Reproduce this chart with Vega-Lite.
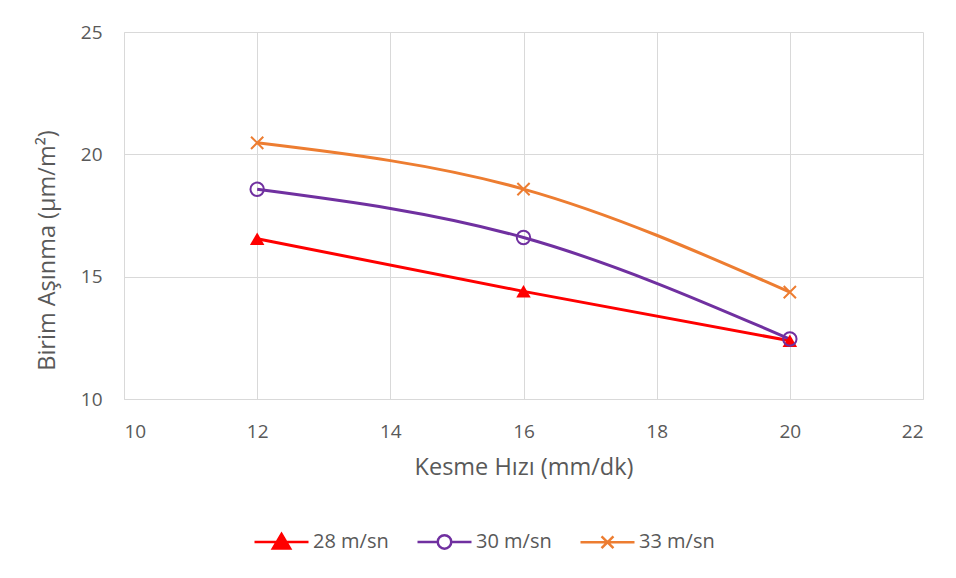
{
  "$schema": "https://vega.github.io/schema/vega-lite/v6.json",
  "width": 799,
  "height": 367,
  "autosize": {"type": "none"},
  "padding": {"left": 124, "top": 32, "right": 33, "bottom": 179},
  "background": "#ffffff",
  "config": {
    "view": {"stroke": null},
    "font": "Open Sans",
    "axis": {
      "grid": true,
      "gridColor": "#d9d9d9",
      "gridWidth": 1,
      "domainColor": "#d9d9d9",
      "domainWidth": 1,
      "ticks": false,
      "labelFont": "Open Sans",
      "labelFontSize": 19,
      "labelColor": "#595959",
      "titleFont": "Open Sans",
      "titleFontSize": 23.5,
      "titleFontWeight": "normal",
      "titleColor": "#595959"
    },
    "legend": {
      "labelFont": "Open Sans",
      "labelFontSize": 20,
      "labelColor": "#595959"
    }
  },
  "data": {
    "values": [
      {"hiz": 12, "asinma": 16.55, "seri": "28 m/sn"},
      {"hiz": 16, "asinma": 14.4, "seri": "28 m/sn"},
      {"hiz": 20, "asinma": 12.38, "seri": "28 m/sn"},
      {"hiz": 12, "asinma": 18.57, "seri": "30 m/sn"},
      {"hiz": 16, "asinma": 16.6, "seri": "30 m/sn"},
      {"hiz": 20, "asinma": 12.45, "seri": "30 m/sn"},
      {"hiz": 12, "asinma": 20.47, "seri": "33 m/sn"},
      {"hiz": 16, "asinma": 18.58, "seri": "33 m/sn"},
      {"hiz": 20, "asinma": 14.37, "seri": "33 m/sn"}
    ]
  },
  "encoding": {
    "x": {
      "field": "hiz",
      "type": "quantitative",
      "scale": {"domain": [10, 22], "nice": false, "zero": false},
      "axis": {
        "values": [10, 12, 14, 16, 18, 20, 22],
        "labelPadding": 23,
        "title": "Kesme Hızı (mm/dk)",
        "titleY": 68,
        "titleBaseline": "middle"
      }
    },
    "y": {
      "field": "asinma",
      "type": "quantitative",
      "scale": {"domain": [10, 25], "nice": false, "zero": false},
      "axis": {
        "values": [10, 15, 20, 25],
        "labelPadding": 22,
        "title": "Birim Aşınma (µm/m²)",
        "titleX": -77,
        "titleY": 218,
        "titleAngle": -90,
        "titleAlign": "center",
        "titleBaseline": "middle"
      }
    }
  },
  "layer": [
    {
      "mark": {"type": "line", "interpolate": "monotone", "strokeWidth": 3},
      "encoding": {
        "color": {
          "field": "seri",
          "type": "nominal",
          "scale": {"domain": ["28 m/sn", "30 m/sn", "33 m/sn"], "range": ["#ff0000", "#7030a0", "#ed7d31"]},
          "legend": {
            "title": null,
            "orient": "none",
            "direction": "horizontal",
            "legendX": 129,
            "legendY": 481,
            "symbolSize": 2916,
            "symbolStrokeWidth": 2.5,
            "labelOffset": 3,
            "columnPadding": 23,
            "encode": {
              "symbols": {
                "update": {
                  "shape": {"signal": "datum.value === '28 m/sn' ? 'M-1,0H1M0,-0.3L0.32,0.24H-0.32Z' : datum.value === '30 m/sn' ? 'M-1,0H-0.25M0.25,0H1M0.25,0A0.25,0.25 0 1,1 -0.25,0A0.25,0.25 0 1,1 0.25,0Z' : 'M-1,0H1M-0.22,-0.22L0.22,0.22M-0.22,0.22L0.22,-0.22'"},
                  "fill": {"signal": "datum.value === '28 m/sn' ? '#ff0000' : 'transparent'"},
                  "opacity": {"value": 1}
                }
              }
            }
          }
        }
      }
    },
    {
      "transform": [{"filter": "datum.seri === '28 m/sn'"}],
      "mark": {"type": "point", "shape": "triangle-up", "filled": true, "color": "#ff0000", "size": 210, "opacity": 1}
    },
    {
      "transform": [{"filter": "datum.seri === '30 m/sn'"}],
      "mark": {"type": "point", "shape": "circle", "filled": false, "stroke": "#7030a0", "fill": "transparent", "strokeWidth": 2, "size": 180, "opacity": 1}
    },
    {
      "transform": [{"filter": "datum.seri === '33 m/sn'"}],
      "mark": {"type": "point", "shape": "M-1,-1L1,1M-1,1L1,-1", "filled": false, "stroke": "#ed7d31", "strokeWidth": 2, "size": 150, "opacity": 1}
    }
  ]
}
